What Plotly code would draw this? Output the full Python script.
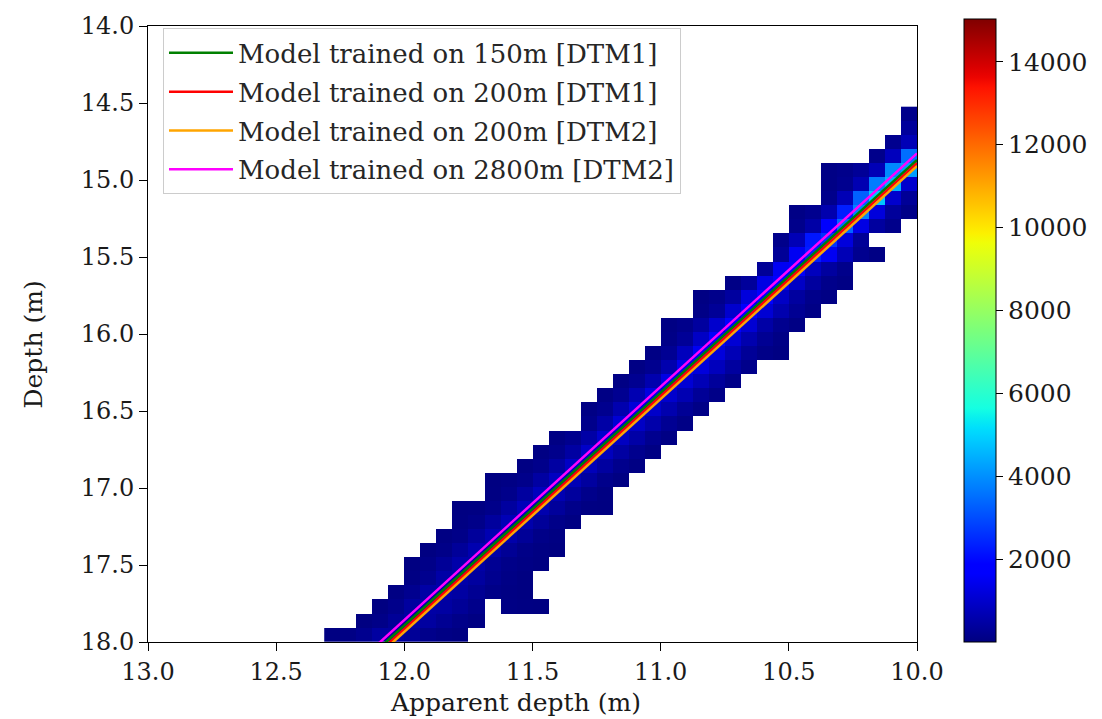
import numpy as np
import plotly.graph_objects as go

# ---------------- data ----------------
# 2-D histogram bins (apparent depth on x, depth on y)
X_BIN_START = 10.0
X_BIN_WIDTH = 0.0625
N_X_BINS = 37
Y_BIN_START = 14.524
Y_BIN_WIDTH = 0.0915
N_Y_BINS = 38

# first (lowest apparent depth) x-bin index of each depth row, and the counts from there on
ROW_FIRST_COL = [0, 0, 0, 0, 0, 0, 0, 0, 1, 3, 2, 4, 4, 5, 6, 7, 8, 8, 10, 11,
                 12, 13, 14, 15, 16, 17, 18, 19, 19, 21, 22, 22, 23, 24, 24, 23, 27, 28]
ROW_COUNTS = [
    [150],
    [350],
    [700, 200],
    [3500, 800, 150],
    [4200, 3900, 700, 300, 150, 80],
    [1000, 4500, 3700, 650, 200, 80],
    [300, 1000, 4800, 3300, 700, 150],
    [100, 350, 1200, 3800, 2300, 600, 200, 80],
    [150, 400, 1300, 3400, 1700, 500, 150],
    [300, 1200, 2600, 2200, 700, 150],
    [60, 200, 700, 1500, 2300, 1500, 300],
    [150, 400, 800, 1600, 1500, 300],
    [60, 150, 400, 900, 1800, 1300, 350, 80],
    [60, 150, 400, 900, 1800, 1200, 400, 150, 50],
    [80, 250, 600, 1100, 1700, 1000, 300, 90],
    [60, 200, 500, 1100, 1700, 1000, 400, 150, 50],
    [80, 250, 600, 1100, 1600, 900, 300, 90],
    [40, 100, 300, 700, 1200, 1500, 800, 250, 70],
    [150, 400, 800, 1200, 1400, 600, 200, 60],
    [120, 350, 700, 1100, 1300, 600, 220, 70],
    [100, 300, 650, 1000, 1250, 650, 220, 60],
    [90, 280, 600, 950, 1150, 600, 200, 60],
    [80, 250, 550, 900, 1100, 500, 150],
    [60, 200, 500, 850, 1000, 500, 180, 50],
    [50, 180, 450, 800, 950, 450, 160, 50],
    [50, 170, 420, 750, 900, 450, 150, 50],
    [40, 150, 400, 700, 850, 450, 150, 60, 30],
    [40, 140, 380, 650, 800, 420, 140, 45],
    [20, 40, 130, 350, 600, 750, 400, 130, 45, 20],
    [40, 120, 330, 580, 700, 380, 120, 40],
    [35, 110, 300, 550, 650, 350, 110, 35],
    [15, 35, 100, 280, 500, 620, 330, 100, 30],
    [30, 60, 120, 250, 500, 550, 300, 100, 30],
    [30, 80, 200, 400, 550, 500, 200, 50],
    [20, 50, 100, 250, 450, 520, 480, 200, 50],
    [20, 40, 60, 0, 150, 300, 450, 480, 400, 150, 30],
    [40, 120, 250, 420, 460, 300, 100, 25],
    [20, 60, 150, 300, 420, 430, 200, 60, 20],
]
COUNT_MIN = 0
COUNT_MAX = 15030
CBAR_TICKS = [2000, 4000, 6000, 8000, 10000, 12000, 14000]

# model lines: apparent depth -> predicted depth
MODEL_NAMES = ["Model trained on 150m [DTM1]", "Model trained on 200m [DTM1]",
               "Model trained on 200m [DTM2]", "Model trained on 2800m [DTM2]"]
MODEL_X = [10.0, 12.25]
MODEL_Y = [
    [14.870, 18.270],
    [14.890, 18.294],
    [14.910, 18.312],
    [14.827, 18.236],
]
MODEL_COLORS = ["green", "red", "orange", "magenta"]

X_TICKS = [13.0, 12.5, 12.0, 11.5, 11.0, 10.5, 10.0]
Y_TICKS = [14.0, 14.5, 15.0, 15.5, 16.0, 16.5, 17.0, 17.5, 18.0]

# ---------------- matplotlib "jet" colormap ----------------
def _seg(points, t):
    xs = [p[0] for p in points]
    ys = [p[1] for p in points]
    return float(np.interp(t, xs, ys))

_R = [(0, 0), (0.35, 0), (0.66, 1), (0.89, 1), (1, 0.5)]
_G = [(0, 0), (0.125, 0), (0.375, 1), (0.64, 1), (0.91, 0), (1, 0)]
_B = [(0, 0.5), (0.11, 1), (0.34, 1), (0.65, 0), (1, 0)]
jet = []
for t in np.linspace(0, 1, 65):
    r, g, b = (_seg(_R, t), _seg(_G, t), _seg(_B, t))
    jet.append([float(t), "rgb(%d,%d,%d)" % (round(r * 255), round(g * 255), round(b * 255))])

# ---------------- build histogram grid ----------------
x_edges = X_BIN_START + np.arange(N_X_BINS + 1) * X_BIN_WIDTH
y_edges = Y_BIN_START + np.arange(N_Y_BINS + 1) * Y_BIN_WIDTH
z = [[None] * N_X_BINS for _ in range(N_Y_BINS)]
for i, (c0, vals) in enumerate(zip(ROW_FIRST_COL, ROW_COUNTS)):
    for k, v in enumerate(vals):
        if v > 0:
            z[i][c0 + k] = v

FONT = "DejaVu Serif"
TXT = "#1a1a1a"
fig = go.Figure()
fig.add_trace(go.Heatmap(
    x=x_edges, y=y_edges, z=z, colorscale=jet, zmin=COUNT_MIN, zmax=COUNT_MAX,
    hoverongaps=False, showscale=True,
    colorbar=dict(x=1.0611, xanchor="left", xpad=0, y=0.5055, yanchor="middle", ypad=0,
                  len=1.012, lenmode="fraction", thickness=32, outlinecolor="black",
                  outlinewidth=1, ticks="outside", ticklen=7, tickcolor="black",
                  tickvals=CBAR_TICKS, tickformat="d",
                  tickfont=dict(family=FONT, size=25, color=TXT)),
))
for name, ys, col in zip(MODEL_NAMES, MODEL_Y, MODEL_COLORS):
    fig.add_trace(go.Scatter(x=MODEL_X, y=ys, mode="lines", name=name, legendgroup=name,
                             line=dict(color=col, width=2.5)))

axis_common = dict(ticks="outside", ticklen=8, tickcolor="black", showline=True,
                   linecolor="black", linewidth=1, mirror=True, showgrid=False,
                   zeroline=False, tickformat=".1f",
                   tickfont=dict(family=FONT, size=24, color=TXT))
fig.update_xaxes(range=[13, 10], tickvals=X_TICKS, **axis_common)
fig.update_yaxes(range=[18, 14], tickvals=Y_TICKS, **axis_common)

fig.update_layout(
    width=1102, height=719,
    margin=dict(l=148, r=185, t=18, b=77),
    plot_bgcolor="white", paper_bgcolor="white",
    font=dict(family=FONT, size=24, color=TXT),
    legend=dict(x=0.0195, y=0.996, xanchor="left", yanchor="top",
                bgcolor="rgba(255,255,255,0.8)", bordercolor="#cccccc", borderwidth=1,
                font=dict(family=FONT, size=26, color="#262626"), itemwidth=64,
                tracegroupgap=2),
    annotations=[
        dict(text="Apparent depth (m)", x=0.4785, y=-0.0978, xref="paper", yref="paper",
             xanchor="center", yanchor="middle", showarrow=False,
             font=dict(family=FONT, size=25, color=TXT)),
        dict(text="Depth (m)", x=-0.1495, y=0.483, xref="paper", yref="paper",
             xanchor="center", yanchor="middle", showarrow=False, textangle=-90,
             font=dict(family=FONT, size=25, color=TXT)),
    ],
)
fig.write_html("out.html")
